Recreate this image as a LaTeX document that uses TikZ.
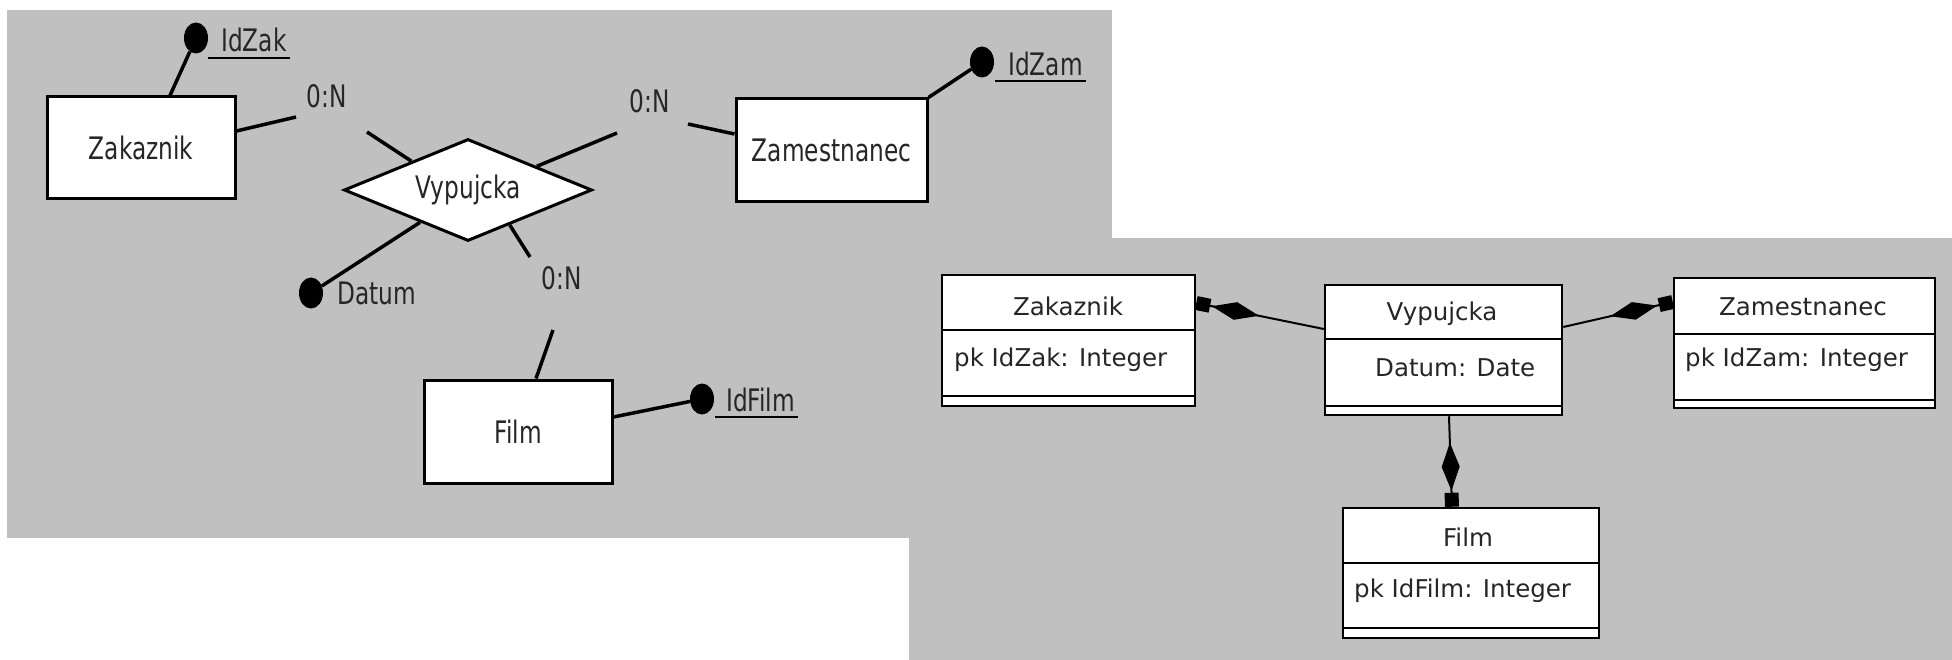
\documentclass[tikz,border=0pt]{standalone}
\usepackage{fontspec}
\setmainfont{DejaVu Sans}
\newfontfamily\erfont[FakeStretch=0.75]{DejaVu Sans}
\usetikzlibrary{shapes.geometric,arrows.meta}
\definecolor{bggray}{RGB}{192,192,192}
\begin{document}
\begin{tikzpicture}[x=1pt,y=-1pt,
  erbox/.style={draw=black,fill=white,line width=3pt,inner sep=0pt},
  erlink/.style={line width=3.5pt},
  ertext/.style={font=\erfont\fontsize{31}{36}\selectfont,inner sep=0pt,text=black!85},
  attrdot/.style={ellipse,fill=black,minimum width=24pt,minimum height=31pt,inner sep=0pt},
  uline/.style={line width=2.5pt},
  umlbox/.style={draw=black,fill=white,line width=2.5pt,inner sep=0pt},
  umlline/.style={line width=2.5pt},
  umltext/.style={font=\fontsize{24.5}{29}\selectfont,inner sep=0pt,text=black!85},
  umllink/.style={line width=2pt,-{Kite[length=48pt,width=18pt,inset=24pt,sep=2pt]Square[length=14pt,width=14pt,sep=0pt]}},
]
\useasboundingbox (0,0) rectangle (1952,660);
\fill[bggray] (7,10) rectangle (1112,538);
\fill[bggray] (909,238) rectangle (1952,660);

% ---------- ER diagram ----------
\node[erbox,ertext,minimum width=188pt,minimum height=102pt] (zak) at (141,148) {Zakaznik};
\node[erbox,ertext,diamond,aspect=2.43,minimum width=248pt,minimum height=102pt] (vyp) at (468,190) {Vypujcka};
\node[erbox,ertext,minimum width=191pt,minimum height=103pt] (zam) at (831.5,150.5) {Zamestnanec};
\node[erbox,ertext,minimum width=188pt,minimum height=103pt] (film) at (518,431.5) {Film};

\node[attrdot] (dzak) at (196,38) {};
\node[attrdot] (dzam) at (982,62) {};
\node[attrdot] (dfilm) at (702,399) {};
\node[attrdot] (ddat) at (311,293) {};

\node[ertext,anchor=base west] (lzak) at (221,52) {IdZak};
\node[ertext,anchor=base west] (lzam) at (1008,76) {IdZam};
\node[ertext,anchor=base west] (lfilm) at (726,411) {IdFilm};
\node[ertext,anchor=base west] (ldat) at (337,305) {Datum};
\draw[uline] ([xshift=-13pt,yshift=-6pt]lzak.base west) -- ([xshift=3pt,yshift=-6pt]lzak.base east);
\draw[uline] ([xshift=-13pt,yshift=-5pt]lzam.base west) -- ([xshift=3pt,yshift=-5pt]lzam.base east);
\draw[uline] ([xshift=-11pt,yshift=-6pt]lfilm.base west) -- ([xshift=3pt,yshift=-6pt]lfilm.base east);

\node[ertext] (c1) at (327,96) {0:N};
\node[ertext] (c2) at (650,101) {0:N};
\node[ertext] (c3) at (562,278) {0:N};

\coordinate (zv1) at (296,117);
\coordinate (zv2) at (367,132);
\coordinate (vz1) at (617,133);
\coordinate (vz2) at (688,124);
\coordinate (vf1) at (530,257);
\coordinate (vf2) at (553,330);

\draw[erlink] ([yshift=17pt]zak.east) -- (zv1);
\draw[erlink] (zv2) -- (vyp.153);
\draw[erlink] (vyp.19) -- (vz1);
\draw[erlink] (vz2) -- ([yshift=16.5pt]zam.west);
\draw[erlink] (vyp.-40.5) -- (vf1);
\draw[erlink] (vf2) -- ([xshift=18pt]film.north);
\draw[erlink] (vyp.214) -- (ddat);
\draw[erlink] (dzak) -- ([xshift=29pt]zak.north);
\draw[erlink] (zam.north east) -- (dzam);
\draw[erlink] ([yshift=14.5pt]film.east) -- (dfilm);

% ---------- UML diagram ----------
\node[umlbox,minimum width=253pt,minimum height=131pt] (zakU) at (1068.5,340.5) {};
\node[umlbox,minimum width=237pt,minimum height=130pt] (vypU) at (1443.5,350) {};
\node[umlbox,minimum width=261pt,minimum height=130pt] (zamU) at (1804.5,343) {};
\node[umlbox,minimum width=256pt,minimum height=130pt] (filmU) at (1471,573) {};

\draw[umlline] (zakU.west |- 0,330) -- (zakU.east |- 0,330);
\draw[umlline] (zakU.west |- 0,396) -- (zakU.east |- 0,396);
\draw[umlline] (vypU.west |- 0,339) -- (vypU.east |- 0,339);
\draw[umlline] (vypU.west |- 0,406) -- (vypU.east |- 0,406);
\draw[umlline] (zamU.west |- 0,334) -- (zamU.east |- 0,334);
\draw[umlline] (zamU.west |- 0,400) -- (zamU.east |- 0,400);
\draw[umlline] (filmU.west |- 0,563) -- (filmU.east |- 0,563);
\draw[umlline] (filmU.west |- 0,628) -- (filmU.east |- 0,628);

\node[umltext] (zakUh) at (1068,306) {Zakaznik};
\node[umltext,anchor=west] (zakUa) at (954,360) {pk IdZak: Integer};
\node[umltext] (vypUh) at (1442,314) {Vypujcka};
\node[umltext,anchor=west] (vypUa) at (1375,368) {Datum: Date};
\node[umltext] (zamUh) at (1803,307) {Zamestnanec};
\node[umltext,anchor=west] (zamUa) at (1685,360) {pk IdZam: Integer};
\node[umltext] (filmUh) at (1468,537) {Film};
\node[umltext,anchor=west] (filmUa) at (1354,591) {pk IdFilm: Integer};

\draw[umllink] ([yshift=21pt]vypU.west) -- ([yshift=37.5pt]zakU.east);
\draw[umllink] ([yshift=23pt]vypU.east) -- ([yshift=41pt]zamU.west);
\draw[umllink] ([xshift=5.5pt]vypU.south) -- ([xshift=-19pt]filmU.north);
\end{tikzpicture}
\end{document}
